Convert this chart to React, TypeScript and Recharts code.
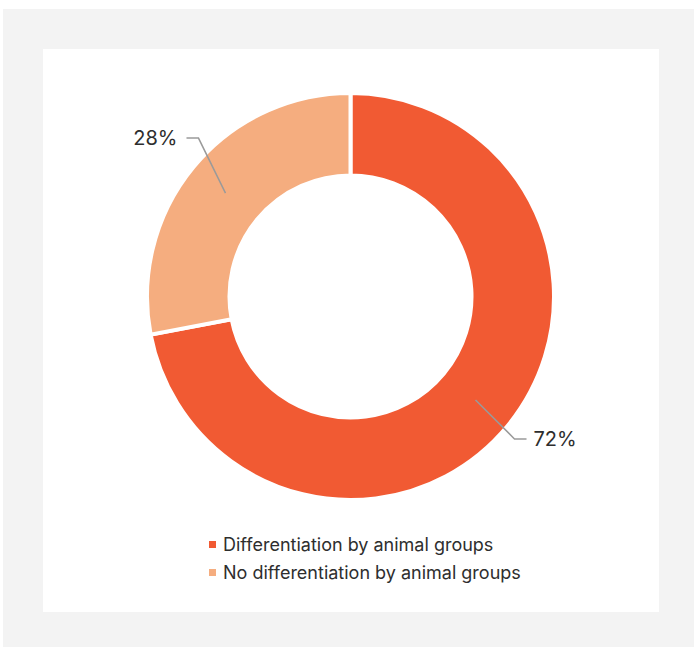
import React from "react";
import { PieChart, Pie, Cell, Legend } from "recharts";

const categories = ["Differentiation by animal groups", "No differentiation by animal groups"];
const shares = [72, 28];
const labels = ["72%", "28%"];
const colors = ["#F15A33", "#F5AD7F"];
// label elbow offsets relative to the ring midpoint of each slice (dx, dy, horizontal run)
const elbows = [
  { dx: 39, dy: 39, run: 12 },
  { dx: -27, dy: -55, run: -12 },
];

const data = categories.map((name, i) => ({ name, value: shares[i], label: labels[i] }));

const RAD = Math.PI / 180;
const FONT = "Inter, 'Noto Sans', Arial, sans-serif";

const renderLabel = (props: any) => {
  const { cx, cy, midAngle, innerRadius, outerRadius, index } = props;
  const r = (innerRadius + outerRadius) / 2;
  const sx = cx + r * Math.cos(-midAngle * RAD);
  const sy = cy + r * Math.sin(-midAngle * RAD);
  const e = elbows[index];
  const ex = sx + e.dx;
  const ey = sy + e.dy;
  const hx = ex + e.run;
  const right = e.run > 0;
  return (
    <g>
      <polyline
        points={`${sx},${sy} ${ex},${ey} ${hx},${ey}`}
        fill="none"
        stroke="#9a9a9a"
        strokeWidth={1.5}
      />
      <text
        x={hx + (right ? 7 : -9)}
        y={ey}
        textAnchor={right ? "start" : "end"}
        dominantBaseline="central"
        fill="#2e2e2e"
        fontSize={20}
        fontFamily={FONT}
      >
        {data[index].label}
      </text>
    </g>
  );
};

const LegendContent = () => (
  <div style={{ fontFamily: FONT, fontSize: 18, color: "#2e2e2e" }}>
    {data.map((d, i) => (
      <div key={d.name} style={{ display: "flex", alignItems: "center", height: 28 }}>
        <span
          style={{
            display: "inline-block",
            width: 7,
            height: 7,
            background: colors[i],
            marginRight: 7,
          }}
        />
        <span>{d.name}</span>
      </div>
    ))}
  </div>
);

export default function App() {
  return (
    <div style={{ position: "absolute", left: 0, top: 0, width: 694, height: 647, background: "#ffffff" }}>
      <div style={{ position: "absolute", left: 3, top: 9, width: 691, height: 638, background: "#f3f3f3" }} />
      <div style={{ position: "absolute", left: 43, top: 49, width: 616, height: 563, background: "#ffffff" }} />
      <div style={{ position: "absolute", left: 0, top: 0 }}>
        <PieChart width={694} height={647} margin={{ top: 0, right: 0, bottom: 0, left: 0 }}>
          <Pie
            data={data}
            dataKey="value"
            nameKey="name"
            cx={350.5}
            cy={296.5}
            innerRadius={121}
            outerRadius={203.5}
            startAngle={90}
            endAngle={-270}
            stroke="#ffffff"
            strokeWidth={4}
            label={renderLabel}
            labelLine={false}
            isAnimationActive={false}
          >
            {data.map((d, i) => (
              <Cell key={d.name} fill={colors[i]} />
            ))}
          </Pie>
          <Legend
            content={LegendContent}
            layout="horizontal"
            verticalAlign="bottom"
            align="left"
            wrapperStyle={{ position: "absolute", left: 209, top: 530, width: 400, height: 56 }}
          />
        </PieChart>
      </div>
    </div>
  );
}
